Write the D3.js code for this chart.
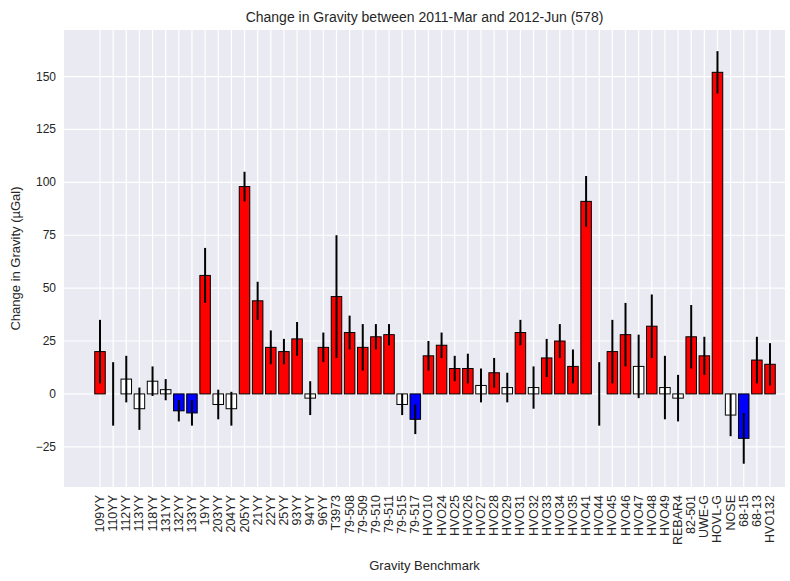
<!DOCTYPE html><html><head><meta charset="utf-8">
<script src="https://cdn.jsdelivr.net/npm/d3@7"></script>
<style>body{margin:0;background:#fff;font-family:"Liberation Sans",Arial,sans-serif}</style></head><body>
<svg id="c" width="790" height="581"></svg>
<script>
const labels=["109YY","110YY","112YY","113YY","118YY","131YY","132YY","133YY","19YY","203YY","204YY","205YY","21YY","22YY","25YY","93YY","94YY","96YY","T3973","79-508","79-509","79-510","79-511","79-515","79-517","HVO10","HVO24","HVO25","HVO26","HVO27","HVO28","HVO29","HVO31","HVO32","HVO33","HVO34","HVO35","HVO41","HVO44","HVO45","HVO46","HVO47","HVO48","HVO49","REBAR4","82-501","UWE-G","HOVL-G","NOSE","68-15","68-13","HVO132"];
const values=[20,0,7,-7,6,2,-8,-9,56,-5,-7,98,44,22,20,26,-2,22,46,29,22,27,28,-5,-12,18,23,12,12,4,10,3,29,3,17,25,13,91,0,20,28,13,32,3,-2,27,18,152,-10,-21,16,14];
const errors=[15,15,11,10,7,5,5,6,13,7,8,7,9,8,6,8,8,7,29,8,11,6,5,5,7,7,6,6,7,8,7,7,6,10,9,8,8,12,15,15,15,15,15,15,11,15,9,10,10,12,11,10];
const colors=["red","white","white","white","white","white","blue","blue","red","white","white","red","red","red","red","red","white","red","red","red","red","red","red","white","blue","red","red","red","red","white","red","white","red","white","red","red","red","red","white","red","red","white","red","white","white","red","red","red","white","blue","red","red"];
const yTicks=[-25,0,25,50,75,100,125,150];
const svg=d3.select("#c");
const L=64,R=785,T=30,B=487;
svg.append("rect").attr("x",L).attr("y",T).attr("width",R-L).attr("height",B-T).attr("fill","#eaeaf2");
const x=d3.scaleLinear().domain([-2.74,52.14]).range([L,R]);
const y=d3.scaleLinear().domain([-44,172]).range([B,T]);
const g=svg.append("g");
yTicks.forEach(t=>g.append("line").attr("x1",L).attr("x2",R).attr("y1",y(t)).attr("y2",y(t)).attr("stroke","#fff").attr("stroke-width",1.2));
labels.forEach((l,i)=>g.append("line").attr("x1",x(i)).attr("x2",x(i)).attr("y1",T).attr("y2",B).attr("stroke","#fff").attr("stroke-width",1.2));
const bw=x(0.8)-x(0);
labels.forEach((l,i)=>{
 const v=values[i];
 g.append("rect").attr("x",x(i)-bw/2).attr("width",bw).attr("y",y(Math.max(v,0))).attr("height",Math.abs(y(v)-y(0))).attr("fill",colors[i]).attr("stroke","#000").attr("stroke-width",1);
 g.append("line").attr("x1",x(i)).attr("x2",x(i)).attr("y1",y(v-errors[i])).attr("y2",y(v+errors[i])).attr("stroke","#000").attr("stroke-width",2);
});
yTicks.forEach(t=>svg.append("text").attr("x",L-8).attr("y",y(t)+4).attr("text-anchor","end").attr("font-size",12).attr("fill","#262626").text(t<0?"\u2212"+(-t):t));
labels.forEach((l,i)=>svg.append("text").attr("transform",`translate(${x(i)+4},${B+8}) rotate(-90)`).attr("text-anchor","end").attr("font-size",12.5).attr("fill","#262626").text(l));
svg.append("text").attr("x",(L+R)/2).attr("y",22).attr("text-anchor","middle").attr("font-size",14).attr("fill","#262626").text("Change in Gravity between 2011-Mar and 2012-Jun (578)");
svg.append("text").attr("x",(L+R)/2).attr("y",570).attr("text-anchor","middle").attr("font-size",13).attr("fill","#262626").text("Gravity Benchmark");
svg.append("text").attr("transform",`translate(20,${(T+B)/2}) rotate(-90)`).attr("text-anchor","middle").attr("font-size",13).attr("fill","#262626").text("Change in Gravity (µGal)");
</script></body></html>
